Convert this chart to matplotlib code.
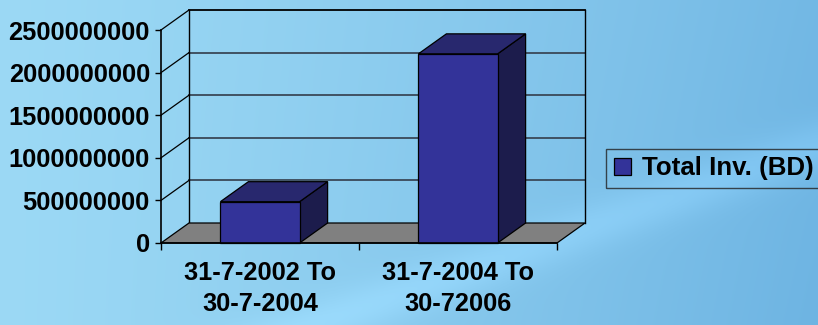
import numpy as np
import matplotlib
matplotlib.use("Agg")
from matplotlib import pyplot as plt
from matplotlib.patches import Polygon, Rectangle, Patch
from matplotlib.ticker import FixedLocator, NullFormatter, FuncFormatter

# data
categories = ["31-7-2002 To\n30-7-2004", "31-7-2004 To\n30-72006"]
values = [485000000, 2220000000]
series_name = "Total Inv. (BD)"
yticks = [0, 500000000, 1000000000, 1500000000, 2000000000, 2500000000]

front_col = "#333399"
top_col = "#28286e"
side_col = "#1c1c4c"
floor_col = "#808080"
grid_col = "#3a4858"

plt.rcParams["font.family"] = ["Liberation Sans", "DejaVu Sans"]
plt.rcParams["font.weight"] = "bold"

W, H = 818, 325
fig = plt.figure(figsize=(W / 100, H / 100), dpi=100)

# background gradient
bg = fig.add_axes([0, 0, 1, 1], zorder=-10)
yy, xx = np.mgrid[0:1:200j, 0:1:400j]
t = np.clip(0.8 * xx ** 1.3 + 0.1 * yy * xx, 0, 1)
c0 = np.array([0.61, 0.85, 0.96])
c1 = np.array([0.41, 0.69, 0.88])
img = c0[None, None, :] * (1 - t[..., None]) + c1[None, None, :] * t[..., None]
band = np.exp(-((yy - (1.35 - 0.9 * xx)) / 0.08) ** 2) * 0.05
img = np.clip(img + band[..., None], 0, 1)
bg.imshow(img, aspect="auto", extent=[0, 1, 0, 1], origin="upper")
bg.axis("off")

# front plane of the 3d plot
x0, x1, yb, yt = 161, 557, 243, 30
ax = fig.add_axes([x0 / W, (H - yb) / H, (x1 - x0) / W, (yb - yt) / H])
ax.patch.set_alpha(0)
ymax = yticks[-1]
ax.set_xlim(0, 2)
ax.set_ylim(0, ymax)

DX = 2 * 28 / (x1 - x0)
DY = ymax * 20 / (yb - yt)

# back wall + gridlines
for v in yticks[1:]:
    ax.plot([DX, 2 + DX], [v + DY, v + DY], color=grid_col if v < ymax else "black",
            lw=1.3, clip_on=False, zorder=1)
ax.plot([DX, DX], [DY, ymax + DY], color="black", lw=1, clip_on=False, zorder=1)
ax.plot([2 + DX, 2 + DX], [DY, ymax + DY], color="black", lw=1, clip_on=False, zorder=1)
for v in yticks[1:]:
    ax.plot([0, DX], [v, v + DY], color="black", lw=0.9, clip_on=False, zorder=1)

# floor
ax.add_patch(Polygon([(0, 0), (2, 0), (2 + DX, DY), (DX, DY)], closed=True,
                     facecolor=floor_col, edgecolor="black", lw=0.9, clip_on=False, zorder=2))

# bars
bw = 0.4
for i, v in enumerate(values):
    xl = i + 0.5 - bw / 2
    xr = xl + bw
    ax.add_patch(Polygon([(xr, 0), (xr + DX, DY), (xr + DX, v + DY), (xr, v)], closed=True,
                         facecolor=side_col, edgecolor="black", lw=0.9, clip_on=False, zorder=3))
    ax.add_patch(Polygon([(xl, v), (xr, v), (xr + DX, v + DY), (xl + DX, v + DY)], closed=True,
                         facecolor=top_col, edgecolor="black", lw=0.9, clip_on=False, zorder=3))
    ax.add_patch(Rectangle((xl, 0), bw, v, facecolor=front_col, edgecolor="black",
                           lw=0.9, clip_on=False, zorder=4))

for s in ["top", "right"]:
    ax.spines[s].set_visible(False)
for s in ["left", "bottom"]:
    ax.spines[s].set_linewidth(1.2)
    ax.spines[s].set_zorder(5)

ax.set_yticks(yticks)
ax.yaxis.set_major_formatter(FuncFormatter(lambda v, p: "%d" % v))
ax.tick_params(axis="y", length=4, width=1, pad=4, labelsize=18.3)
ax.xaxis.set_major_locator(FixedLocator([0, 1, 2]))
ax.xaxis.set_major_formatter(NullFormatter())
ax.xaxis.set_minor_locator(FixedLocator([0.5, 1.5]))
ax.set_xticklabels(categories, minor=True)
ax.tick_params(axis="x", which="major", length=5, width=1)
ax.tick_params(axis="x", which="minor", length=0, pad=13, labelsize=18.3)
for lab in ax.get_xticklabels(minor=True):
    lab.set_linespacing(1.38)

leg = fig.legend(handles=[Patch(facecolor=front_col, edgecolor="black", lw=0.9)],
                 labels=[series_name], loc="center left",
                 bbox_to_anchor=(606 / W, (H - 168.5) / H), prop={"size": 18.6, "weight": "bold"},
                 frameon=True, fancybox=False, handlelength=0.65, handleheight=0.65,
                 handletextpad=0.45, borderpad=0.3, borderaxespad=0)
leg.get_frame().set_facecolor("none")
leg.get_frame().set_edgecolor("#222222")
leg.get_frame().set_linewidth(1)

plt.savefig("out.png", dpi=100)
